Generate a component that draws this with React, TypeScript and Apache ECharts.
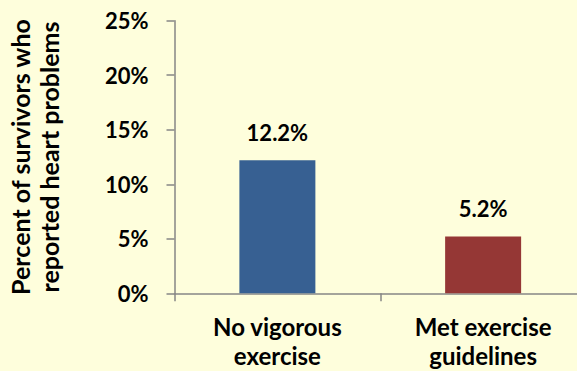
import React, { useEffect, useRef } from "react";
import * as echarts from "echarts";

const categories = ["No vigorous\nexercise", "Met exercise\nguidelines"];
const values = [12.2, 5.2];
const barColors = ["#376092", "#953735"];
const yTicks = { min: 0, max: 25, interval: 5 };
const yAxisTitle = "Percent of survivors who\nreported heart problems";

export default function App() {
  const ref = useRef<HTMLDivElement>(null);
  useEffect(() => {
    if (!ref.current) return;
    const chart = echarts.init(ref.current, null, { renderer: "svg" });
    const font = "Lato";
    chart.setOption({
      animation: false,
      backgroundColor: "#FEFEDC",
      grid: {
        left: 174.5,
        top: 20.7,
        bottom: 77.7,
        right: -9,
        containLabel: false,
        outerBoundsMode: "none",
      },
      xAxis: {
        type: "category",
        data: categories,
        axisLine: { show: true, lineStyle: { color: "#868686", width: 1.5 } },
        axisTick: { show: true, length: 8, lineStyle: { color: "#868686", width: 1.5 } },
        axisLabel: {
          color: "#000",
          fontFamily: font,
          fontWeight: "bold",
          fontSize: 24,
          lineHeight: 29,
          margin: 19,
          interval: 0,
        },
      },
      yAxis: {
        type: "value",
        min: yTicks.min,
        max: yTicks.max,
        interval: yTicks.interval,
        name: yAxisTitle,
        nameLocation: "middle",
        nameRotate: 90,
        nameGap: 111,
        nameTextStyle: {
          color: "#000",
          fontFamily: font,
          fontWeight: "bold",
          fontSize: 25,
          lineHeight: 29,
          align: "center",
        },
        splitLine: { show: false },
        axisLine: { show: true, lineStyle: { color: "#868686", width: 1.5 } },
        axisTick: { show: true, length: 8, lineStyle: { color: "#868686", width: 1.5 } },
        axisLabel: {
          color: "#000",
          fontFamily: font,
          fontWeight: "bold",
          fontSize: 22,
          margin: 26,
          formatter: "{value}%",
        },
      },
      series: [
        {
          type: "bar",
          barWidth: 76,
          data: values.map((v, i) => ({ value: v, itemStyle: { color: barColors[i] } })),
          label: {
            show: true,
            position: "top",
            distance: 17,
            color: "#000",
            fontFamily: font,
            fontWeight: "bold",
            fontSize: 22,
            formatter: (p: any) => p.value.toFixed(1) + "%",
          },
        },
      ],
    });
    return () => chart.dispose();
  }, []);
  return (
    <div
      ref={ref}
      style={{ position: "fixed", left: 0, top: 0, width: 577, height: 371 }}
    />
  );
}
